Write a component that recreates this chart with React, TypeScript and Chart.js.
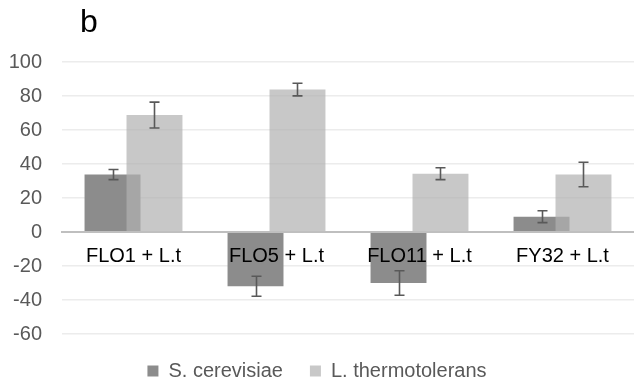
import { useEffect, useRef } from 'react';
import { Chart, registerables } from 'chart.js';

Chart.register(...registerables);

const categories = ['FLO1 + L.t', 'FLO5 + L.t', 'FLO11 + L.t', 'FY32 + L.t'];
const seriesNames = ['S. cerevisiae', 'L. thermotolerans'];
const cerevisiae = [33.8, -31.9, -30.0, 9.0];
const cerevisiaeErr = [3.0, 5.9, 7.2, 3.5];
const thermo = [68.8, 83.8, 34.3, 33.8];
const thermoErr = [7.6, 3.7, 3.5, 7.2];
const yMin = -60;
const yMax = 100;
const yStep = 20;
const panelLabel = 'b';

const FONT = "'Liberation Sans', Arial, sans-serif";
const errors = [cerevisiaeErr, thermoErr];

const overlapAndErrors = {
  id: 'overlapAndErrors',
  beforeDatasetDraw(chart: any, args: any) {
    if (args.index === 1) return false;
    return true;
  },
  afterDatasetsDraw(chart: any) {
    const ctx = chart.ctx;
    const meta1 = chart.getDatasetMeta(1);
    ctx.save();
    meta1.data.forEach((el: any) => el.draw(ctx));
    ctx.restore();

    const yScale = chart.scales.y;
    ctx.save();
    ctx.strokeStyle = '#595959';
    ctx.lineWidth = 1.6;
    [0, 1].forEach((di) => {
      const meta = chart.getDatasetMeta(di);
      const vals = chart.data.datasets[di].data as number[];
      meta.data.forEach((el: any, j: number) => {
        const v = vals[j];
        const e = errors[di][j];
        const x = Math.round(el.x) + 0.5;
        const yTop = yScale.getPixelForValue(v + e);
        const yBot = yScale.getPixelForValue(v - e);
        const cap = 5;
        ctx.beginPath();
        ctx.moveTo(x, yTop);
        ctx.lineTo(x, yBot);
        ctx.moveTo(x - cap, yTop);
        ctx.lineTo(x + cap, yTop);
        ctx.moveTo(x - cap, yBot);
        ctx.lineTo(x + cap, yBot);
        ctx.stroke();
      });
    });
    ctx.restore();
  },
  afterDraw(chart: any) {
    const ctx = chart.ctx;
    ctx.save();
    ctx.font = `32px ${FONT}`;
    ctx.fillStyle = '#000000';
    ctx.textBaseline = 'alphabetic';
    ctx.textAlign = 'left';
    ctx.fillText(panelLabel, 80, 32);
    ctx.restore();
  },
};

export default function App() {
  const ref = useRef<HTMLCanvasElement | null>(null);

  useEffect(() => {
    if (!ref.current) return;
    const chart = new Chart(ref.current, {
      type: 'bar',
      data: {
        labels: categories,
        datasets: [
          {
            label: seriesNames[0],
            data: cerevisiae,
            backgroundColor: '#8c8c8c',
            borderWidth: 0,
          },
          {
            label: seriesNames[1],
            data: thermo,
            backgroundColor: 'rgba(177,177,177,0.7)',
            borderWidth: 0,
          },
        ],
      },
      options: {
        animation: false,
        responsive: false,
        datasets: {
          bar: {
            categoryPercentage: 0.587,
            barPercentage: 1.333,
          },
        },
        layout: {
          padding: { top: 62, left: 0, right: 0, bottom: -10 },
        },
        plugins: {
          tooltip: { enabled: false },
          title: { display: false },
          legend: {
            display: true,
            position: 'bottom',
            labels: {
              boxWidth: 11,
              boxHeight: 11,
              padding: 27,
              color: '#595959',
              font: { family: FONT, size: 20 },
            },
          },
        },
        scales: {
          x: {
            position: { y: 0 } as any,
            grid: { display: false, drawTicks: false },
            border: { display: true, color: '#bfbfbf', width: 2, z: 1 } as any,
            ticks: {
              z: 1,
              color: '#000000',
              padding: 12,
              maxRotation: 0,
              autoSkip: false,
              font: { family: FONT, size: 20 },
            },
          },
          y: {
            min: yMin,
            max: yMax,
            afterFit: (scale: any) => {
              scale.width = 62;
            },
            grid: { color: '#ececec', lineWidth: 1.5, drawTicks: false },
            border: { display: false },
            ticks: {
              stepSize: yStep,
              color: '#595959',
              padding: 20,
              font: { family: FONT, size: 20 },
            },
          },
        },
      },
      plugins: [overlapAndErrors],
    });
    return () => chart.destroy();
  }, []);

  return (
    <div style={{ position: 'absolute', left: 0, top: 0, width: 634, height: 381, background: '#ffffff' }}>
      <canvas ref={ref} width={634} height={381} style={{ display: 'block' }} />
    </div>
  );
}
